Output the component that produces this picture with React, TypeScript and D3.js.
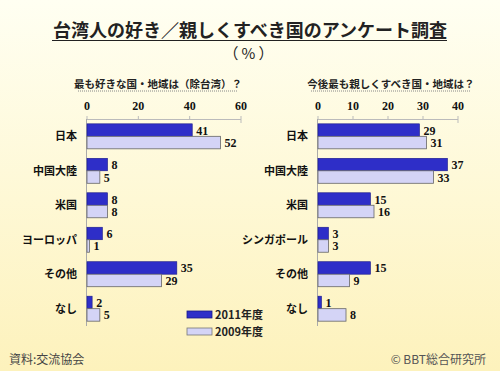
import React from 'react';
import * as d3 from 'd3';

const leftCategories = ['日本', '中国大陸', '米国', 'ヨーロッパ', 'その他', 'なし'];
const left2011 = [41, 8, 8, 6, 35, 2];
const left2009 = [52, 5, 8, 1, 29, 5];
const leftTicks = [0, 20, 40, 60];

const rightCategories = ['日本', '中国大陸', '米国', 'シンガポール', 'その他', 'なし'];
const right2011 = [29, 37, 15, 3, 15, 1];
const right2009 = [31, 33, 16, 3, 9, 8];
const rightTicks = [0, 10, 20, 30, 40];

const seriesNames = ['2011年度', '2009年度'];

const W = 500;
const H = 371;
const jp = '"Noto Sans CJK JP", sans-serif';
const num = '"Liberation Serif", "DejaVu Serif", serif';
const dark = '#2e2ec8';
const light = '#d4d4f6';

type PanelProps = {
  title: string;
  cats: string[];
  a: number[];
  b: number[];
  ticks: number[];
  x0: number;
  x1: number;
  titleX: number;
};

function Panel({ title, cats, a, b, ticks, x0, x1, titleX }: PanelProps) {
  const x = d3.scaleLinear().domain([0, ticks[ticks.length - 1]]).range([x0, x1]);
  const y = d3.scaleBand().domain(cats).range([119, 326]).paddingInner(0.275).paddingOuter(0.14);
  const bw = y.bandwidth() / 2;
  return (
    <g>
      <text x={titleX} y={88} fontFamily={jp} fontWeight="bold" fontSize={10.5} fill="#222" textAnchor="middle">{title}</text>
      <line x1={titleX - 80} x2={titleX + 80} y1={91} y2={91} stroke="#888" strokeWidth={1} strokeDasharray="1,1" />
      {ticks.map((t) => (
        <g key={t}>
          <text x={x(t)} y={110} textAnchor="middle" fontFamily={num} fontWeight="bold" fontSize={12} fill="#111">{t}</text>
          <line x1={x(t)} x2={x(t)} y1={116} y2={119} stroke="#bbb" />
        </g>
      ))}
      <line x1={x0} x2={x1} y1={119.5} y2={119.5} stroke="#bbb" />
      <line x1={x1} x2={x1} y1={119} y2={123} stroke="#bbb" />
      <line x1={x0 - 0.5} x2={x0 - 0.5} y1={119} y2={326} stroke="#aaa" />
      {cats.map((c, i) => {
        const yy = y(c) as number;
        return (
          <g key={c}>
            <text x={x0 - 10} y={yy + bw + 4} textAnchor="end" fontFamily={jp} fontWeight="bold" fontSize={11} fill="#111">{c}</text>
            <rect x={x0} y={yy} width={x(a[i]) - x0} height={bw} fill={dark} stroke="#1a1a8a" strokeWidth={0.6} />
            <rect x={x0} y={yy + bw} width={x(b[i]) - x0} height={bw} fill={light} stroke="#666" strokeWidth={0.8} />
            <text x={x(a[i]) + 4} y={yy + bw / 2 + 4.5} fontFamily={num} fontWeight="bold" fontSize={12} fill="#111">{a[i]}</text>
            <text x={x(b[i]) + 4} y={yy + bw + bw / 2 + 4.5} fontFamily={num} fontWeight="bold" fontSize={12} fill="#111">{b[i]}</text>
          </g>
        );
      })}
    </g>
  );
}

export default function App() {
  return (
    <svg width={W} height={H} style={{ position: 'absolute', left: 0, top: 0 }}>
      <defs>
        <linearGradient id="bg" x1="0" y1="0" x2="0" y2="1">
          <stop offset="0" stopColor="#fffff2" />
          <stop offset="1" stopColor="#fdf2bc" />
        </linearGradient>
      </defs>
      <rect width={W} height={H} fill="url(#bg)" />
      <text x={250} y={37} textAnchor="middle" fontFamily={jp} fontWeight="bold" fontSize={18} fill="#222">台湾人の好き／親しくすべき国のアンケート調査</text>
      <line x1={52} x2={447} y1={40.5} y2={40.5} stroke="#222" strokeWidth={1.2} />
      <text x={250} y={59} textAnchor="middle" fontFamily={jp} fontSize={15} letterSpacing={3} fill="#222">（%）</text>

      <Panel title="最も好きな国・地域は（除台湾）？" cats={leftCategories} a={left2011} b={left2009} ticks={leftTicks} x0={87} x1={241} titleX={158} />
      <Panel title="今後最も親しくすべき国・地域は？" cats={rightCategories} a={right2011} b={right2009} ticks={rightTicks} x0={318} x1={458} titleX={391} />

      {seriesNames.map((s, i) => (
        <g key={s}>
          <rect x={187} y={311 + i * 17} width={25} height={7} fill={i === 0 ? dark : light} stroke={i === 0 ? '#1a1a8a' : '#777'} strokeWidth={0.8} />
          <text x={215} y={319 + i * 17} fontFamily={jp} fontWeight="bold" fontSize={11} fill="#222">{s}</text>
        </g>
      ))}

      <text x={9} y={364} fontFamily={jp} fontSize={12} fill="#444">資料:交流協会</text>
      <text x={486} y={364} textAnchor="end" fontFamily={jp} fontSize={12} fill="#555">© BBT総合研究所</text>
    </svg>
  );
}
